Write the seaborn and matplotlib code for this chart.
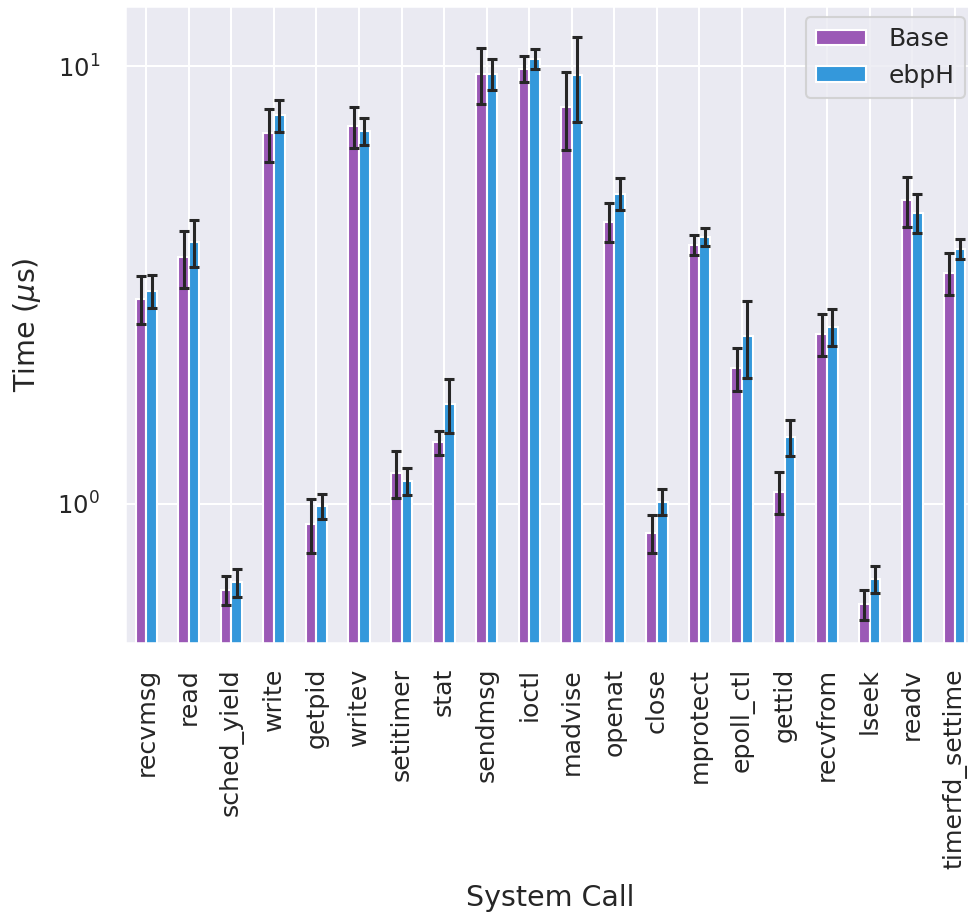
import matplotlib
matplotlib.use("Agg")
import matplotlib.pyplot as plt
import seaborn as sns
import pandas as pd
import numpy as np

# ---- data ----
syscalls = ["recvmsg", "read", "sched_yield", "write", "getpid", "writev",
            "setitimer", "stat", "sendmsg", "ioctl", "madvise", "openat",
            "close", "mprotect", "epoll_ctl", "gettid", "recvfrom", "lseek",
            "readv", "timerfd_settime"]
series = ["Base", "ebpH"]
base_mean = [2.94, 3.66, 0.634, 7.03, 0.898, 7.29, 1.175, 1.38, 9.61, 9.89,
             8.08, 4.41, 0.857, 3.91, 2.04, 1.064, 2.45, 0.588, 4.95, 3.37]
base_err = [0.37, 0.55, 0.049, 0.97, 0.126, 0.78, 0.145, 0.088, 1.40, 0.67,
            1.63, 0.45, 0.084, 0.21, 0.23, 0.115, 0.27, 0.045, 0.65, 0.37]
ebph_mean = [3.07, 3.97, 0.661, 7.73, 0.989, 7.11, 1.124, 1.69, 9.61, 10.40,
             9.57, 5.12, 1.011, 4.08, 2.42, 1.42, 2.54, 0.673, 4.63, 3.82]
ebph_err = [0.27, 0.49, 0.048, 0.66, 0.065, 0.50, 0.08, 0.24, 0.77, 0.55,
            2.10, 0.43, 0.07, 0.20, 0.48, 0.135, 0.25, 0.047, 0.48, 0.20]
colors = ["#9b59b6", "#3498db"]

df = pd.DataFrame({
    "System Call": syscalls * 2,
    "Time": base_mean + ebph_mean,
    "Kernel": [series[0]] * len(syscalls) + [series[1]] * len(syscalls),
})

sns.set_theme(style="darkgrid", context="talk")
plt.rcParams["font.family"] = ["DejaVu Sans"]
plt.rcParams["mathtext.fontset"] = "dejavusans"

W, H = 968, 913
fig = plt.figure(figsize=(W / 100, H / 100), dpi=100)
ax = fig.add_axes([125 / W, 1 - 643 / H, (976 - 125) / W, (643 - 6) / H])

sns.barplot(data=df, x="System Call", y="Time", hue="Kernel",
            hue_order=series, order=syscalls, palette=colors,
            width=0.5, saturation=1, errorbar=None,
            edgecolor="white", linewidth=1.5, ax=ax)
ax.set_yscale("log")

errs = [base_err, ebph_err]
for cont, err in zip(ax.containers, errs):
    xs = [b.get_x() + b.get_width() / 2 for b in cont]
    ys = [b.get_height() + b.get_y() for b in cont]
    ax.errorbar(xs, ys, yerr=err, fmt="none", ecolor="0.15",
                elinewidth=2.2, capsize=3.8, capthick=2.2, zorder=5)

ax.set_ylim(0.48, 13.75)
ax.set_xlim(-0.5, len(syscalls) - 0.5)
ax.grid(True, axis="both", which="major", color="white", linewidth=1.5)
ax.grid(False, which="minor")
ax.set_axisbelow(True)
ax.set_ylabel(r"Time ($\mu$s)", fontsize=20.5, labelpad=10, color="0.15")
ax.set_xlabel("System Call", fontsize=20.5, color="0.15", labelpad=11)
ax.tick_params(axis="x", labelrotation=90, labelsize=18.2, length=0, pad=18)
ax.tick_params(axis="y", labelsize=17.5, length=0, pad=18, which="both")
ax.tick_params(axis="y", which="minor", length=0)

sns.move_legend(ax, "upper right", title=None, fontsize=18,
                handlelength=2.0, handleheight=0.6, handletextpad=0.9,
                borderaxespad=0.45, frameon=True)

fig.savefig("out.png", dpi=100)
